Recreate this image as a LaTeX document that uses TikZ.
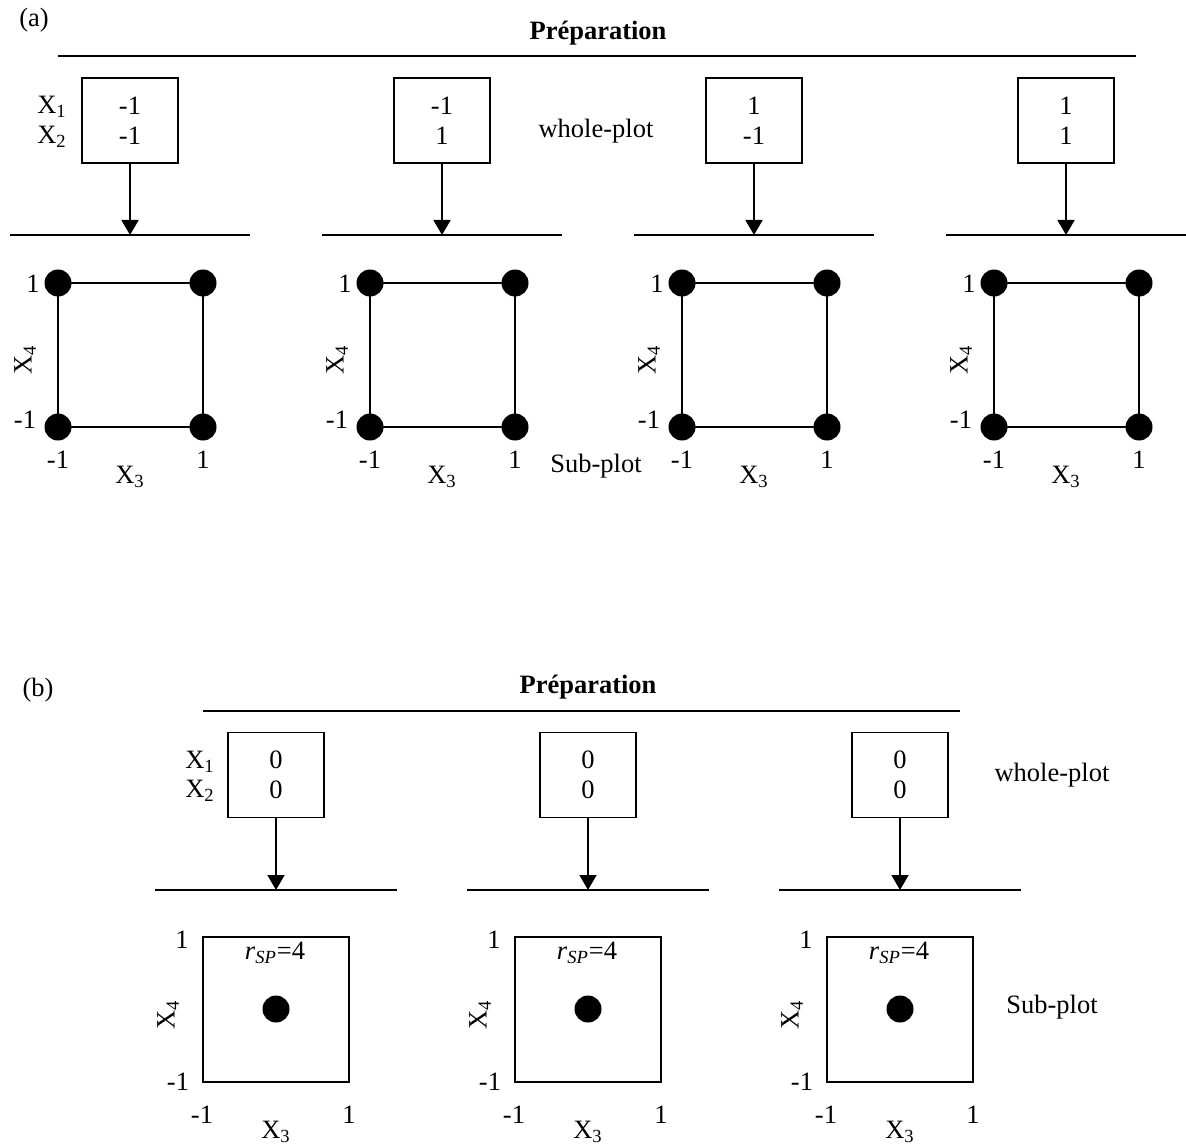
\documentclass[tikz,border=0pt]{standalone}
\usepackage{fontspec}
\setmainfont{Liberation Serif}
\usetikzlibrary{arrows.meta}
\begin{document}
\begin{tikzpicture}[x=0.5pt,y=-0.5pt,
  every node/.style={font=\fontsize{13.25}{15}\selectfont, inner sep=0pt},
  boldtitle/.style={font=\fontsize{13.25}{15}\selectfont\bfseries},
  ln/.style={line width=1pt},
  thinln/.style={line width=0.8pt},
  wpbox/.style={draw, line width=0.9pt, minimum width=48pt, minimum height=42.5pt, align=center},
  dotnode/.style={circle, fill=black, minimum size=13.5pt},
  arr/.style={line width=0.9pt, -{Triangle[width=8.5pt,length=7.5pt]}},
  spbox/.style={draw, line width=0.9pt, minimum width=73pt, minimum height=72.5pt}]
\useasboundingbox (0,0) rectangle (1186,1144);

% ---------------- (a) ----------------
\node (laba) at (34,20) {(a)};
\node[boldtitle] (prepa) at (598,33) {Préparation};
\coordinate (pal) at (58,56);
\coordinate (par) at (1136,56);
\draw[ln] (pal) -- (par);

\node (ax1) at (52,107) {X\textsubscript{1}};
\node (ax2) at (52,137) {X\textsubscript{2}};
\node (awp) at (596,131) {whole-plot};
\node (asp) at (596,466) {Sub-plot};

\foreach \i/\c/\va/\vb in {1/130/-1/-1, 2/442/-1/1, 3/754/1/-1, 4/1066/1/1} {
  \node[wpbox] (aw\i) at (\c,120.5) {\va\\\vb};
  \coordinate (al\i) at (\c-120,235);
  \coordinate (ar\i) at (\c+120,235);
  \coordinate (at\i) at (\c,235);
  \draw[ln] (al\i) -- (ar\i);
  \draw[arr] (aw\i.south) -- (at\i);
  \node[dotnode] (a\i ll) at (\c-72,427) {};
  \node[dotnode] (a\i lr) at (\c+73,427) {};
  \node[dotnode] (a\i ul) at (\c-72,283) {};
  \node[dotnode] (a\i ur) at (\c+73,283) {};
  \draw[thinln] (a\i ll.center) -- (a\i lr.center) -- (a\i ur.center) -- (a\i ul.center) -- cycle;
  \node (a\i t1) at (\c-97,284) {1};
  \node (a\i tm) at (\c-105,420) {-1};
  \node (a\i bm) at (\c-72,460) {-1};
  \node (a\i bp) at (\c+73,460) {1};
  \node (a\i x3) at (\c,477) {X\textsubscript{3}};
  \node[rotate=90] (a\i x4) at (\c-105,360) {X\textsubscript{4}};
}

% ---------------- (b) ----------------
\node (labb) at (38,690) {(b)};
\node[boldtitle] (prepb) at (588,687) {Préparation};
\coordinate (pbl) at (203,711);
\coordinate (pbr) at (960,711);
\draw[ln] (pbl) -- (pbr);

\node (bx1) at (200,762) {X\textsubscript{1}};
\node (bx2) at (200,791) {X\textsubscript{2}};
\node (bwp) at (1052,775) {whole-plot};
\node (bsp) at (1052,1007) {Sub-plot};

\foreach \i/\c in {1/276, 2/588, 3/900} {
  \node[wpbox] (bw\i) at (\c,775) {0\\0};
  \coordinate (bl\i) at (\c-121,890);
  \coordinate (br\i) at (\c+121,890);
  \coordinate (bt\i) at (\c,890);
  \draw[ln] (bl\i) -- (br\i);
  \draw[arr] (bw\i.south) -- (bt\i);
  \node[spbox] (bs\i) at (\c,1009.5) {};
  \node[dotnode] (bd\i) at (\c,1009) {};
  \node (br\i sp) at (\c-1,953) {\textit{r}\textsubscript{\textit{SP}}=4};
  \node (b\i t1) at (\c-94,940) {1};
  \node (b\i tm) at (\c-98,1082) {-1};
  \node (b\i bm) at (\c-74,1115) {-1};
  \node (b\i bp) at (\c+73,1115) {1};
  \node (b\i x3) at (\c,1132) {X\textsubscript{3}};
  \node[rotate=90] (b\i x4) at (\c-108,1015) {X\textsubscript{4}};
}
\end{tikzpicture}
\end{document}
